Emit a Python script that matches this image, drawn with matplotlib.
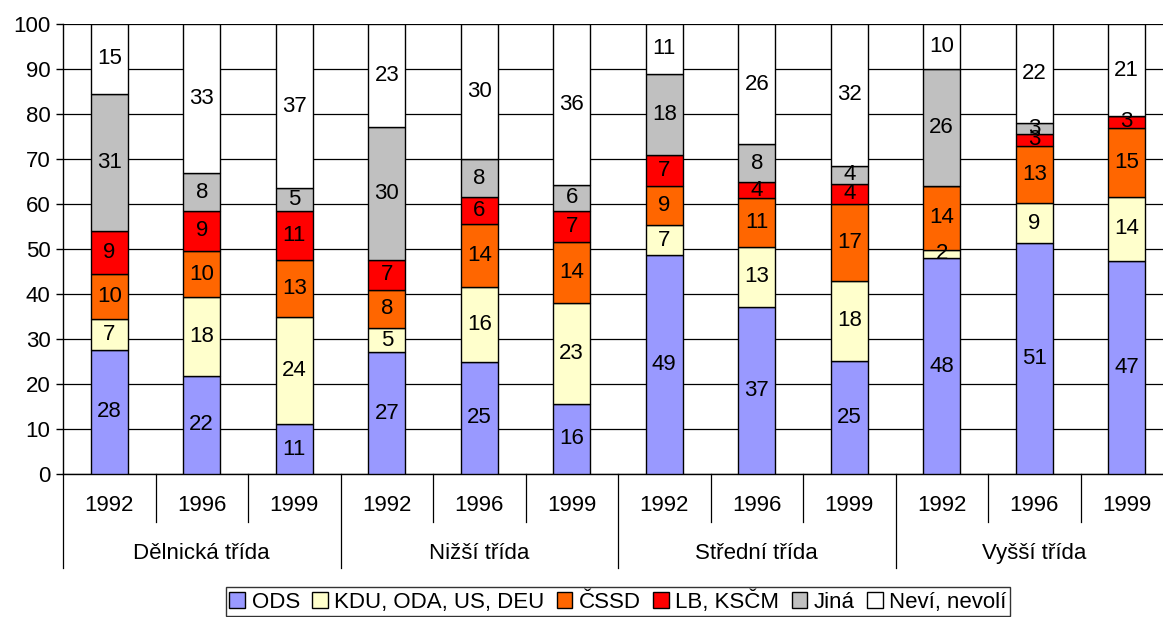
import matplotlib.pyplot as plt
from matplotlib.patches import Patch
import numpy as np

plt.rcParams['font.family'] = ['Liberation Sans', 'DejaVu Sans']

groups = ['Dělnická třída', 'Nižší třída', 'Střední třída', 'Vyšší třída']
years = ['1992', '1996', '1999']

series_names = ['ODS', 'KDU, ODA, US, DEU', 'ČSSD', 'LB, KSČM', 'Jiná', 'Neví, nevolí']
series_colors = ['#9999FF', '#FFFFCC', '#FF6600', '#FF0000', '#C0C0C0', '#FFFFFF']

# segment heights (percent)
ods = [27.6, 21.8, 11.1, 27.1, 24.9, 15.6, 48.7, 37.1, 25.1, 48.0, 51.3, 47.3]
kdu = [6.9, 17.5, 23.8, 5.3, 16.7, 22.4, 6.6, 13.4, 17.8, 1.8, 8.9, 14.3]
cssd = [10.0, 10.2, 12.6, 8.6, 13.9, 13.5, 8.7, 10.8, 17.1, 14.2, 12.8, 15.4]
lb = [9.5, 9.0, 11.0, 6.5, 6.0, 7.0, 7.0, 3.5, 4.5, 0.0, 2.5, 2.5]
jina = [30.5, 8.3, 5.0, 29.7, 8.5, 5.8, 18.0, 8.5, 4.0, 26.0, 2.5, 0.0]
nevi = [15.5, 33.2, 36.5, 22.8, 30.0, 35.7, 11.0, 26.7, 31.5, 10.0, 22.0, 20.5]

# printed labels
ods_lbl = [28, 22, 11, 27, 25, 16, 49, 37, 25, 48, 51, 47]
kdu_lbl = [7, 18, 24, 5, 16, 23, 7, 13, 18, 2, 9, 14]
cssd_lbl = [10, 10, 13, 8, 14, 14, 9, 11, 17, 14, 13, 15]
lb_lbl = [9, 9, 11, 7, 6, 7, 7, 4, 4, 0, 3, 3]
jina_lbl = [31, 8, 5, 30, 8, 6, 18, 8, 4, 26, 3, 0]
nevi_lbl = [15, 33, 37, 23, 30, 36, 11, 26, 32, 10, 22, 21]

values = [ods, kdu, cssd, lb, jina, nevi]
labels = [ods_lbl, kdu_lbl, cssd_lbl, lb_lbl, jina_lbl, nevi_lbl]

FS = 16

fig = plt.figure(figsize=(11.63, 6.17), dpi=100)
ax = fig.add_axes([63 / 1163, 1 - 474 / 617, 1110 / 1163, 450 / 617])

n = len(ods)
x = np.arange(n)
bottom = np.zeros(n)
for vals, lbls, color in zip(values, labels, series_colors):
    vals = np.array(vals)
    ax.bar(x, vals, width=0.4, bottom=bottom, color=color, edgecolor='black',
           linewidth=1, zorder=3)
    for xi, b, v, l in zip(x, bottom, vals, lbls):
        if l > 0:
            ax.text(xi, b + v / 2, str(l), ha='center', va='center',
                    fontsize=FS, zorder=4)
    bottom += vals

ax.set_xlim(-0.5, n - 0.5)
ax.set_ylim(0, 100)
ax.set_yticks(range(0, 101, 10))
ax.yaxis.grid(True, color='black', linewidth=0.9, zorder=0)
ax.tick_params(axis='y', length=5, width=1, labelsize=FS, pad=4)
ax.tick_params(axis='x', length=0, labelbottom=False)
for s in ['top', 'right']:
    ax.spines[s].set_visible(False)
ax.spines['left'].set_linewidth(1)
ax.spines['bottom'].set_linewidth(1)

# category axis: years and group labels with separators
trans = ax.get_xaxis_transform()
for i in range(n + 1):
    xb = i - 0.5
    if i % 3 == 0:
        ax.plot([xb, xb], [0, -0.209], transform=trans, color='black', lw=0.9, clip_on=False)
    else:
        ax.plot([xb, xb], [0, -0.107], transform=trans, color='black', lw=0.9, clip_on=False)
for i in range(n):
    ax.text(i, -0.069, years[i % 3], transform=trans, ha='center', va='center', fontsize=FS)
for g, name in enumerate(groups):
    ax.text(g * 3 + 1, -0.176, name, transform=trans, ha='center', va='center', fontsize=FS)

handles = [Patch(facecolor=c, edgecolor='black', linewidth=1) for c in series_colors]
leg = ax.legend(handles, series_names, loc='upper center', bbox_to_anchor=(0.5, -0.251),
                ncol=6, fontsize=FS, frameon=True, fancybox=False, edgecolor='black',
                handlelength=0.7, handleheight=0.7, handletextpad=0.3,
                columnspacing=0.55, borderpad=0.15, borderaxespad=0)
leg.get_frame().set_linewidth(1)

fig.savefig('out.png', dpi=100)
